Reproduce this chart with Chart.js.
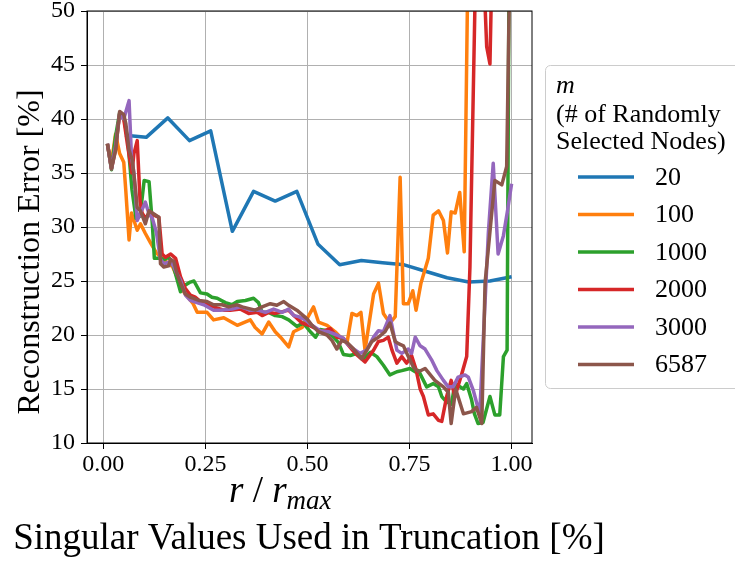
<!DOCTYPE html>
<html>
<head>
<meta charset="utf-8">
<script src="https://cdn.jsdelivr.net/npm/chart.js@4.4.1/dist/chart.umd.min.js"></script>
<style>
  html, body { margin: 0; padding: 0; background: #fff; }
  canvas { display: block; }
</style>
</head>
<body>
<canvas id="chart" width="735" height="561"></canvas>
<script>
const labels = ['20', '100', '1000', '2000', '3000', '6587'];
const colors = ['#1f77b4', '#ff7f0e', '#2ca02c', '#d62728', '#9467bd', '#8c564b'];
const xTicks = [0, 0.25, 0.5, 0.75, 1.0];
const yTicks = [10, 15, 20, 25, 30, 35, 40, 45, 50];

const ratio20 = [0.053,0.105,0.158,0.211,0.263,0.316,0.368,0.421,0.474,0.526,0.579,0.632,0.684,0.737,0.789,0.842,0.895,0.947,1.0];
const err20 = [38.5,38.3,40.1,38.0,38.9,29.6,33.3,32.4,33.3,28.4,26.5,26.9,26.7,26.5,25.9,25.3,24.9,25.0,25.4];

const ratio100 = [0.01,0.02,0.03,0.04,0.05,0.055,0.063,0.069,0.083,0.091,0.103,0.116,0.13,0.15,0.17,0.185,0.197,0.22,0.23,0.254,0.27,0.295,0.328,0.36,0.372,0.389,0.405,0.421,0.434,0.454,0.466,0.487,0.515,0.527,0.548,0.568,0.588,0.597,0.609,0.621,0.631,0.641,0.662,0.674,0.686,0.702,0.715,0.727,0.735,0.747,0.758,0.766,0.778,0.796,0.808,0.821,0.833,0.843,0.852,0.862,0.873,0.884,0.895,0.93,1.0];
const err100 = [37.6,36.0,38.6,36.8,36.0,33.4,28.8,31.3,29.7,30.3,29.4,28.5,27.6,26.9,26.3,25.0,24.0,22.9,22.1,22.1,21.4,21.6,20.9,21.4,20.7,20.1,21.2,20.3,19.8,18.9,20.3,20.7,22.6,21.2,20.9,20.3,19.5,19.3,22.0,21.8,22.1,18.6,23.8,24.8,22.0,21.1,21.7,34.6,22.9,22.9,24.1,22.3,24.8,27.1,31.1,31.5,30.6,27.6,31.4,31.3,33.2,27.7,60,75,90];

const ratio1000 = [0.01,0.02,0.03,0.04,0.05,0.06,0.07,0.08,0.09,0.1,0.112,0.12,0.125,0.138,0.15,0.16,0.17,0.181,0.189,0.2,0.213,0.222,0.238,0.254,0.266,0.279,0.299,0.315,0.328,0.348,0.368,0.38,0.389,0.405,0.421,0.438,0.454,0.474,0.49,0.507,0.52,0.531,0.548,0.564,0.576,0.588,0.605,0.621,0.637,0.654,0.67,0.686,0.702,0.719,0.731,0.751,0.764,0.772,0.792,0.808,0.821,0.829,0.841,0.853,0.861,0.882,0.89,0.902,0.909,0.918,0.93,0.947,0.959,0.971,0.98,0.989,1.0];
const err1000 = [37.7,35.3,38.4,40.6,40.2,38.0,33.5,30.8,31.0,34.3,34.2,30.3,27.1,27.1,27.0,27.2,26.6,25.1,24.0,24.6,24.9,25.0,23.9,23.8,23.5,23.4,23.0,22.8,23.1,23.2,23.4,23.0,22.1,22.1,21.8,21.7,21.4,20.8,21.1,20.3,19.8,20.5,20.4,19.8,19.3,18.2,18.1,18.3,17.8,18.4,18.0,17.2,16.3,16.6,16.7,16.9,16.6,16.7,15.2,15.5,15.2,14.3,13.8,13.6,15.5,15.0,15.5,14.0,12.7,11.8,11.9,14.3,12.6,12.6,18.0,18.6,100];

const ratio2000 = [0.01,0.02,0.03,0.04,0.05,0.06,0.07,0.075,0.083,0.09,0.095,0.103,0.112,0.124,0.136,0.144,0.152,0.165,0.177,0.189,0.201,0.213,0.225,0.238,0.254,0.27,0.295,0.311,0.336,0.356,0.377,0.389,0.405,0.421,0.454,0.47,0.487,0.503,0.52,0.535,0.556,0.572,0.588,0.597,0.617,0.641,0.662,0.674,0.686,0.698,0.707,0.719,0.731,0.743,0.755,0.766,0.776,0.784,0.796,0.808,0.821,0.829,0.841,0.852,0.861,0.878,0.89,0.898,0.915,0.925,0.939,0.947,0.955,1.0];
const err2000 = [37.7,35.4,37.2,40.5,40.0,37.4,35.0,36.8,38.0,32.4,31.3,30.8,31.3,31.1,30.9,27.5,27.2,27.5,27.1,25.4,24.3,23.7,23.5,23.1,22.8,22.6,22.3,22.3,22.4,22.0,22.1,21.8,22.1,22.0,22.3,21.7,21.1,20.9,20.6,20.3,20.6,19.8,19.7,19.2,18.3,17.5,18.6,19.4,19.5,19.8,18.6,17.4,18.0,17.4,18.1,16.8,15.0,14.3,12.6,12.7,12.1,12.0,14.3,15.8,14.3,16.4,18.0,26.3,60,60,46.7,45.1,60,80];

const ratio3000 = [0.01,0.02,0.03,0.04,0.05,0.063,0.069,0.075,0.083,0.091,0.103,0.112,0.12,0.13,0.14,0.148,0.165,0.173,0.181,0.189,0.201,0.213,0.246,0.27,0.287,0.315,0.336,0.36,0.38,0.397,0.417,0.438,0.454,0.466,0.478,0.495,0.511,0.531,0.552,0.572,0.588,0.597,0.613,0.629,0.645,0.662,0.674,0.686,0.702,0.719,0.731,0.747,0.755,0.764,0.776,0.788,0.804,0.817,0.833,0.845,0.857,0.869,0.886,0.894,0.906,0.916,0.922,0.943,0.955,0.967,0.98,0.99,1.0];
const err3000 = [37.7,35.4,37.5,40.5,40.0,41.7,36.5,35.0,30.6,31.3,32.3,31.2,30.8,29.5,27.0,26.6,26.8,26.3,25.6,25.1,23.7,23.2,22.8,22.3,22.3,22.4,22.6,22.3,22.3,22.1,22.4,22.1,22.4,21.8,21.7,21.4,20.9,20.4,20.3,20.0,19.7,19.2,18.7,18.3,18.6,19.8,20.4,20.3,21.8,18.6,18.3,18.7,18.3,19.8,19.0,18.7,17.7,16.7,15.8,15.2,15.2,16.1,16.3,16.1,14.9,13.5,12.7,29.4,35.9,27.5,29.2,31.5,34.0];

const ratio6587 = [0.01,0.02,0.03,0.04,0.05,0.055,0.063,0.071,0.079,0.083,0.091,0.103,0.112,0.124,0.136,0.14,0.148,0.16,0.165,0.173,0.18,0.189,0.201,0.213,0.234,0.254,0.27,0.291,0.307,0.328,0.34,0.372,0.389,0.409,0.425,0.442,0.454,0.474,0.499,0.511,0.527,0.548,0.56,0.572,0.584,0.597,0.613,0.633,0.658,0.674,0.69,0.702,0.715,0.723,0.735,0.747,0.76,0.772,0.788,0.812,0.833,0.845,0.852,0.863,0.882,0.902,0.914,0.927,0.935,0.959,0.976,0.988,1.0];
const err6587 = [37.7,35.4,37.1,40.7,40.4,39.6,37.1,36.2,33.4,31.8,31.5,30.3,31.5,31.2,30.9,26.6,26.3,26.4,27.0,26.8,25.7,24.8,23.8,23.5,23.2,23.1,22.8,22.8,22.6,22.8,22.6,22.3,22.6,22.9,22.75,23.1,22.75,22.3,21.5,20.9,20.3,20.0,19.5,18.7,19.5,19.3,18.7,17.8,19.4,19.8,20.3,21.1,19.4,19.2,19.0,18.0,17.0,16.6,16.9,15.8,15.2,14.7,11.8,15.0,12.7,12.9,13.3,11.8,24.8,34.3,33.9,35.6,65];

const seriesX = [ratio20, ratio100, ratio1000, ratio2000, ratio3000, ratio6587];
const seriesY = [err20, err100, err1000, err2000, err3000, err6587];

const serif = '"Liberation Serif", "DejaVu Serif", serif';

const datasets = labels.map((lab, i) => ({
  label: lab,
  data: seriesX[i].map((x, j) => ({ x: x, y: seriesY[i][j] })),
  borderColor: colors[i],
  backgroundColor: colors[i],
  borderWidth: 3.5,
  borderJoinStyle: 'round',
  pointRadius: 0,
  tension: 0,
  fill: false,
  order: labels.length - 1 - i
}));

// frame, axis titles and the legend box are drawn by hand
const extras = {
  id: 'extras',
  afterDraw(chart) {
    const ctx = chart.ctx, a = chart.chartArea;
    ctx.save();
    ctx.strokeStyle = '#000';
    ctx.lineWidth = 1;
    ctx.strokeRect(a.left, a.top, a.right - a.left, a.bottom - a.top);

    ctx.fillStyle = '#000';
    ctx.font = '32px ' + serif;
    ctx.save();
    ctx.translate(31, 252);
    ctx.rotate(-Math.PI / 2);
    ctx.textAlign = 'center';
    ctx.textBaseline = 'middle';
    ctx.fillText('Reconstruction Error [%]', 0, 0);
    ctx.restore();

    // r / r_max
    ctx.textBaseline = 'alphabetic';
    ctx.textAlign = 'left';
    let x = 229;
    const base = 502;
    ctx.font = 'italic 37px ' + serif;
    ctx.fillText('r', x, base);
    x += ctx.measureText('r').width;
    ctx.font = '37px ' + serif;
    ctx.fillText(' / ', x, base);
    x += ctx.measureText(' / ').width;
    ctx.font = 'italic 37px ' + serif;
    ctx.fillText('r', x, base);
    x += ctx.measureText('r').width;
    ctx.font = 'italic 27px ' + serif;
    ctx.fillText('max', x, base + 7);

    ctx.font = '37px ' + serif;
    ctx.textAlign = 'center';
    ctx.fillText('Singular Values Used in Truncation [%]', 309, 549);

    // legend
    ctx.beginPath();
    ctx.roundRect(545.5, 65.5, 210, 323, 5);
    ctx.fillStyle = 'rgba(255,255,255,0.9)';
    ctx.fill();
    ctx.strokeStyle = '#cccccc';
    ctx.stroke();
    ctx.fillStyle = '#000';
    ctx.textAlign = 'left';
    ctx.font = 'italic 26px ' + serif;
    ctx.fillText('m', 556, 93);
    ctx.font = '26px ' + serif;
    ctx.fillText('(# of Randomly', 556, 122);
    ctx.fillText('Selected Nodes)', 556, 149);
    ctx.textBaseline = 'middle';
    chart.data.datasets.forEach((ds, i) => {
      const y = 177 + i * 37.5;
      ctx.strokeStyle = ds.borderColor;
      ctx.lineWidth = 3.5;
      ctx.beginPath();
      ctx.moveTo(578, y);
      ctx.lineTo(634, y);
      ctx.stroke();
      ctx.fillStyle = '#000';
      ctx.fillText(ds.label, 655, y + 1);
    });
    ctx.restore();
  }
};

new Chart(document.getElementById('chart'), {
  type: 'line',
  data: { datasets: datasets },
  options: {
    responsive: false,
    animation: false,
    layout: { padding: { left: 0, right: 203, top: 11, bottom: 0 } },
    plugins: { legend: { display: false }, tooltip: { enabled: false } },
    scales: {
      x: {
        type: 'linear',
        min: -0.04,
        max: 1.05,
        afterBuildTicks: s => { s.ticks = xTicks.map(v => ({ value: v })); },
        afterFit: s => { s.height = 118; s.paddingLeft = 0; s.paddingRight = 0; },
        ticks: { callback: v => v.toFixed(2), color: '#000', font: { family: serif, size: 24 }, padding: 1, maxRotation: 0 },
        grid: { color: '#b0b0b0', lineWidth: 1, tickColor: '#000', tickLength: 6 },
        border: { color: '#000', width: 1 }
      },
      y: {
        min: 10,
        max: 50,
        afterBuildTicks: s => { s.ticks = yTicks.map(v => ({ value: v })); },
        afterFit: s => { s.width = 87; s.paddingTop = 0; s.paddingBottom = 0; },
        ticks: { color: '#000', font: { family: serif, size: 24 }, padding: 6 },
        grid: { color: '#b0b0b0', lineWidth: 1, tickColor: '#000', tickLength: 6 },
        border: { color: '#000', width: 1 }
      }
    }
  },
  plugins: [extras]
});
</script>
</body>
</html>
